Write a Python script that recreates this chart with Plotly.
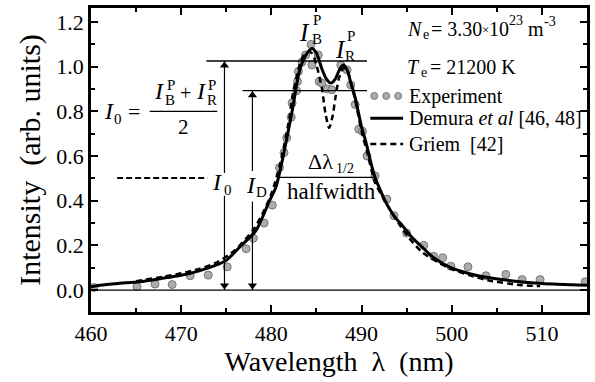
import plotly.graph_objects as go

# ---------------- data ----------------
exp_wl = [460.3, 465.1, 467.1, 469.0, 471.0, 473.0, 475.1, 477.2, 478.0, 479.2, 480.1,
          480.9, 481.4, 481.7, 482.2, 482.3, 482.8, 482.9, 483.0, 483.4, 483.8, 484.4,
          484.5, 485.2, 485.3, 485.6, 486.2, 486.7, 487.7, 488.4, 488.8, 489.3, 489.7,
          490.1, 490.6, 491.5, 492.8, 493.6, 495.0, 496.9, 498.0, 499.0, 499.9, 501.8,
          503.8, 506.0, 507.8, 509.8, 514.8]
exp_int = [0.012, 0.015, 0.027, 0.025, 0.064, 0.067, 0.104, 0.185, 0.232, 0.300, 0.380,
           0.548, 0.615, 0.681, 0.773, 0.837, 0.892, 0.933, 0.978, 1.020, 1.052, 1.099,
           1.007, 1.052, 0.933, 0.926, 0.900, 0.896, 1.007, 0.985, 0.918, 0.830, 0.720,
           0.711, 0.600, 0.511, 0.407, 0.333, 0.255, 0.200, 0.151, 0.145, 0.107, 0.104,
           0.064, 0.070, 0.047, 0.047, 0.037]

dem_wl = [460, 461, 463, 465.4, 468.4, 470, 472, 474, 475, 476.5, 478.3, 479.8, 480.5,
          481.2, 482.3, 483.1, 483.8, 484.5, 485.0, 485.6, 486.1, 486.6, 487.1, 487.6,
          488.0, 488.4, 488.8, 489.3, 490.0, 490.5, 491.0, 491.5, 492.0, 492.6, 493.7,
          494.5, 495.5, 496.7, 498.0, 499.9, 502, 504, 507, 510, 515]
dem_int = [0.015, 0.022, 0.030, 0.037, 0.056, 0.066, 0.086, 0.114, 0.133, 0.193, 0.267,
           0.400, 0.460, 0.578, 0.800, 0.978, 1.050, 1.081, 1.060, 0.990, 0.945, 0.926,
           0.945, 0.990, 1.007, 0.985, 0.930, 0.860, 0.730, 0.660, 0.575, 0.504, 0.455,
           0.400, 0.326, 0.290, 0.240, 0.193, 0.145, 0.100, 0.073, 0.056, 0.040, 0.030,
           0.022]

gri_wl = [465, 468, 470, 472, 474, 476, 478, 479, 480, 481, 482, 482.3, 483, 483.5, 484,
          484.5, 485.0, 485.6, 486.0, 486.4, 486.8, 487.1, 487.5, 488.0, 488.4, 488.8,
          489.3, 490.0, 490.6, 491.5, 492.3, 493.0, 494.1, 495.2, 496.7, 499.6, 502,
          504, 507.7, 509.8]
gri_int = [0.040, 0.060, 0.075, 0.095, 0.125, 0.180, 0.270, 0.340, 0.430, 0.570, 0.770,
           0.860, 0.990, 1.045, 1.065, 1.060, 1.007, 0.904, 0.790, 0.726, 0.780, 0.860,
           0.948, 0.993, 0.985, 0.930, 0.850, 0.710, 0.620, 0.480, 0.420, 0.370, 0.300,
           0.237, 0.170, 0.100, 0.066, 0.044, 0.022, 0.018]

# reference levels / positions (data units)
I0_level = 1.025
ID_level = 0.892
half_level = 0.504
I0_wl = 474.8
ID_wl = 477.9
half_wl = [480.9, 491.5]
I0_line_wl = [472.8, 490.6]
ID_line_wl = [476.8, 490.6]
left_dash_wl = [462.9, 472.9]
left_dash_level = 0.502

x_ticks = [460, 470, 480, 490, 500, 510]
y_ticks = [0.0, 0.2, 0.4, 0.6, 0.8, 1.0, 1.2]

FONT = "Liberation Serif, Times New Roman, Times, serif"

# plot area in pixels
L, R, T, B = 91, 5, 6, 70
W, H = 595, 382
PW, PH = W - L - R, H - T - B
Y_RANGE = [-0.098, 1.262]
Y_PER_PX = (Y_RANGE[1] - Y_RANGE[0]) / PH


def px(x, y):
    return (x - L) / PW, (H - B - y) / PH


fig = go.Figure()

fig.add_trace(go.Scatter(x=exp_wl, y=exp_int, mode="markers", name="Experiment",
                         marker=dict(size=8, color="#acacac",
                                     line=dict(color="#777777", width=1))))
fig.add_trace(go.Scatter(x=dem_wl, y=dem_int, mode="lines", name="Demura et al [46, 48]",
                         line=dict(color="black", width=3, shape="spline", smoothing=0.7)))
fig.add_trace(go.Scatter(x=gri_wl, y=gri_int, mode="lines", name="Griem [42]",
                         line=dict(color="black", width=2.5, dash="6px,4px",
                                   shape="spline", smoothing=0.7)))

# arrow heads (markers whose tips touch the reference levels)
off = 4.5 * Y_PER_PX
fig.add_trace(go.Scatter(x=[I0_wl, ID_wl], y=[I0_level - off, ID_level - off],
                         mode="markers", hoverinfo="skip", showlegend=False,
                         marker=dict(symbol="triangle-up", size=8, color="black",
                                     line=dict(width=0))))
fig.add_trace(go.Scatter(x=[I0_wl, ID_wl], y=[0.0 + off, 0.0 + off],
                         mode="markers", hoverinfo="skip", showlegend=False,
                         marker=dict(symbol="triangle-down", size=8, color="black",
                                     line=dict(width=0))))

shapes = []
line_k = dict(color="black", width=1.3)
shapes.append(dict(type="line", xref="paper", yref="y", x0=0, x1=1, y0=0, y1=0, line=line_k))
shapes.append(dict(type="line", xref="x", yref="y", x0=I0_line_wl[0], x1=I0_line_wl[1],
                   y0=I0_level, y1=I0_level, line=line_k))
shapes.append(dict(type="line", xref="x", yref="y", x0=ID_line_wl[0], x1=ID_line_wl[1],
                   y0=ID_level, y1=ID_level, line=line_k))
shapes.append(dict(type="line", xref="x", yref="y", x0=half_wl[0], x1=half_wl[1],
                   y0=half_level, y1=half_level, line=line_k))
shapes.append(dict(type="line", xref="x", yref="y", x0=left_dash_wl[0], x1=left_dash_wl[1],
                   y0=left_dash_level, y1=left_dash_level,
                   line=dict(color="black", width=2, dash="6px,3px")))

# arrow shafts
for xd, ya, yb in ((I0_wl, 0.524, I0_level), (I0_wl, 0.422, 0.0),
                   (ID_wl, 0.533, ID_level), (ID_wl, 0.396, 0.0)):
    shapes.append(dict(type="line", xref="x", yref="y", x0=xd, x1=xd, y0=ya, y1=yb,
                       line=dict(color="black", width=1.2)))

# fraction bar
fx0, fy = px(150, 110)
fx1, _ = px(218, 110)
shapes.append(dict(type="line", xref="paper", yref="paper", x0=fx0, x1=fx1, y0=fy, y1=fy,
                   line=dict(color="black", width=1.2)))

# legend keys
for cx in (376, 388, 400):
    a, b = px(cx - 3.5, 91)
    c, d = px(cx + 3.5, 98)
    shapes.append(dict(type="circle", xref="paper", yref="paper", x0=a, x1=c, y0=b, y1=d,
                       fillcolor="#acacac", line=dict(color="#777777", width=1)))
a, b = px(372, 117)
c, _ = px(405, 117)
shapes.append(dict(type="line", xref="paper", yref="paper", x0=a, x1=c, y0=b, y1=b,
                   line=dict(color="black", width=3)))
a, b = px(372, 143)
c, _ = px(405, 143)
shapes.append(dict(type="line", xref="paper", yref="paper", x0=a, x1=c, y0=b, y1=b,
                   line=dict(color="black", width=2.5, dash="6px,4px")))

ann = []


def text(xp, yp, s, size=20, xanchor="center", yanchor="middle"):
    a, b = px(xp, yp)
    ann.append(dict(x=a, y=b, xref="paper", yref="paper", text=s, showarrow=False,
                    xanchor=xanchor, yanchor=yanchor,
                    font=dict(family=FONT, size=size, color="black")))


# I0 / ID labels on the arrows
text(218, 181, "<i>I</i>", size=24)
text(229, 189, "0", size=15)
text(252, 184, "<i>I</i>", size=24)
text(263, 191, "D", size=15)

# peak labels
text(306, 31, "<i>I</i>", size=25)
text(318, 18, "P", size=15)
text(318, 37, "B", size=15)
text(342, 48, "<i>I</i>", size=25)
text(353, 34, "P", size=15)
text(352, 54, "R", size=15)

# halfwidth
text(322, 161, "Δλ", size=22)
text(347, 168, "1/2", size=14)
text(333, 191, "halfwidth", size=23)

# formula
text(109, 110, "<i>I</i>", size=24)
text(118, 118, "0", size=15)
text(134, 110, "=", size=22)
text(159, 90, "<i>I</i>", size=24)
text(171, 84, "P", size=15)
text(170, 99, "B", size=15)
text(186, 92, "+", size=20)
text(202, 90, "<i>I</i>", size=24)
text(213, 84, "P", size=15)
text(213, 99, "R", size=15)
text(184, 126, "2", size=21)

# parameters
text(407, 27, "<i>N</i>", size=20, xanchor="left")
text(423, 33, "e", size=14, xanchor="left")
text(431, 27, "= 3.30", size=20, xanchor="left")
text(482, 28, "×", size=13, xanchor="left")
text(489, 27, "10", size=20, xanchor="left")
text(510, 19, "23", size=14, xanchor="left")
text(529, 27, "m", size=20, xanchor="left")
text(545, 20, "-3", size=14, xanchor="left")
text(407, 65, "<i>T</i>", size=20, xanchor="left")
text(421, 71, "e", size=14, xanchor="left")
text(430, 65, "= 21200 K", size=20, xanchor="left")

# legend labels
text(409, 95, "Experiment", size=20, xanchor="left")
text(409, 117, "Demura <i>et al</i> [46, 48]", size=20, xanchor="left")
text(409, 143, "Griem  [42]", size=20, xanchor="left")

fig.update_layout(
    width=W, height=H,
    margin=dict(l=L, r=R, t=T, b=B, pad=0),
    plot_bgcolor="white", paper_bgcolor="white",
    showlegend=False,
    shapes=shapes, annotations=ann,
    font=dict(family=FONT, size=22, color="black"),
)
axis_common = dict(showgrid=False, zeroline=False, showline=True, linecolor="black",
                   linewidth=2.5, mirror="ticks", ticks="inside", ticklen=7, tickwidth=2,
                   tickcolor="black", tickfont=dict(family=FONT, size=22, color="black"))
fig.update_xaxes(range=[460, 515], tickvals=x_ticks, ticktext=[str(v) for v in x_ticks],
                 minor=dict(ticks="inside", ticklen=4, tickwidth=2, dtick=5, tick0=460,
                            tickcolor="black"),
                 title=dict(text="Wavelength  λ  (nm)", font=dict(family=FONT, size=28),
                            standoff=3),
                 **axis_common)
fig.update_yaxes(range=Y_RANGE, tickvals=y_ticks,
                 ticktext=[f"{v:.1f}" for v in y_ticks],
                 minor=dict(ticks="inside", ticklen=4, tickwidth=2, dtick=0.1, tick0=0,
                            tickcolor="black"),
                 title=dict(text="Intensity  (arb. units)", font=dict(family=FONT, size=30),
                            standoff=7),
                 **axis_common)

fig.write_html("out.html")
